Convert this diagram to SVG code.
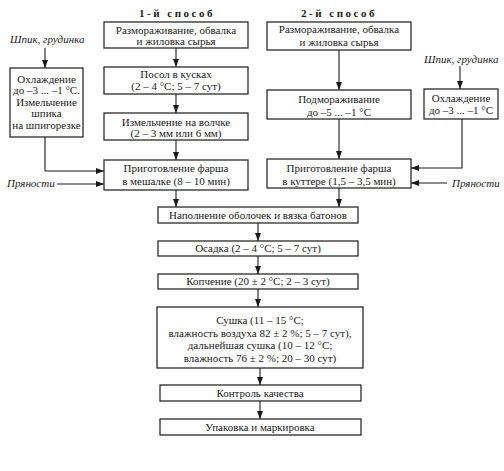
<svg xmlns="http://www.w3.org/2000/svg" width="504" height="471" viewBox="0 0 504 471">
<defs>
<marker id="ah" markerWidth="8" markerHeight="6" refX="8" refY="3" orient="auto" markerUnits="userSpaceOnUse">
<path d="M0,0 L8,3 L0,6 z" fill="#1a1a1a"/>
</marker>
<style>
.box{fill:#fff;stroke:#1a1a1a;stroke-width:1.2}
.t{font-family:"Liberation Serif","Times New Roman",serif;font-size:11px;fill:#1a1a1a;text-anchor:middle}
.i{font-family:"Liberation Serif","Times New Roman",serif;font-size:11px;font-style:italic;fill:#1a1a1a}
.h{font-family:"Liberation Serif","Times New Roman",serif;font-size:11px;font-weight:bold;fill:#1a1a1a;text-anchor:middle;letter-spacing:2.5px}
.c{fill:none;stroke:#1a1a1a;stroke-width:1.1;marker-end:url(#ah)}
</style>
</defs>
<rect width="504" height="471" fill="#fff"/>
<text class="h" x="177" y="17">1-й способ</text>
<text class="h" x="339" y="17">2-й способ</text>
<text class="i" x="10" y="43">Шпик, грудинка</text>
<text class="i" x="424" y="63">Шпик, грудинка</text>
<text class="i" x="7" y="187">Пряности</text>
<text class="i" x="452" y="187">Пряности</text>
<g id="n1"><rect class="box" x="104" y="22" width="144" height="26"/><text class="t" x="176" y="33.5">Размораживание, обвалка</text><text class="t" x="176" y="45">и жиловка сырья</text></g>
<g id="n2"><rect class="box" x="104" y="67" width="144" height="27"/><text class="t" x="176" y="78">Посол в кусках</text><text class="t" x="176" y="90">(2 – 4 °С; 5 – 7 сут)</text></g>
<g id="n3"><rect class="box" x="104" y="113" width="144" height="27"/><text class="t" x="176" y="125.5">Измельчение на волчке</text><text class="t" x="176" y="137">(2 – 3 мм или 6 мм)</text></g>
<g id="n4"><rect class="box" x="104" y="160" width="144" height="30"/><text class="t" x="176" y="172">Приготовление фарша</text><text class="t" x="176" y="185">в мешалке (8 – 10 мин)</text></g>
<g id="n5"><rect class="box" x="10" y="68" width="73" height="69"/><text class="t" x="46.5" y="82.5">Охлаждение</text><text class="t" x="46.5" y="94">до –3 ... –1 °С.</text><text class="t" x="46.5" y="105.5">Измельчение</text><text class="t" x="46.5" y="117">шпика</text><text class="t" x="46.5" y="128.5">на шпигорезке</text></g>
<g id="n6"><rect class="box" x="267" y="22" width="144" height="28"/><text class="t" x="339" y="33">Размораживание, обвалка</text><text class="t" x="339" y="45.5">и жиловка сырья</text></g>
<g id="n7"><rect class="box" x="267" y="90" width="144" height="29"/><text class="t" x="339" y="103">Подмораживание</text><text class="t" x="339" y="115.5">до –5 ... –1 °С</text></g>
<g id="n8"><rect class="box" x="267" y="159" width="144" height="29"/><text class="t" x="339" y="172">Приготовление фарша</text><text class="t" x="339" y="185">в куттере (1,5 – 3,5 мин)</text></g>
<g id="n9"><rect class="box" x="424" y="89" width="74" height="30"/><text class="t" x="461" y="102">Охлаждение</text><text class="t" x="461" y="114">до –3 ... –1 °С</text></g>
<g id="n10"><rect class="box" x="158" y="207" width="200" height="16"/><text class="t" x="258" y="218.5">Наполнение оболочек и вязка батонов</text></g>
<g id="n11"><rect class="box" x="158" y="241" width="200" height="15"/><text class="t" x="258" y="252">Осадка (2 – 4 °С; 5 – 7 сут)</text></g>
<g id="n12"><rect class="box" x="158" y="274" width="200" height="15"/><text class="t" x="258" y="285">Копчение (20 ± 2 °С; 2 – 3 сут)</text></g>
<g id="n13"><rect class="box" x="157" y="307" width="206" height="61"/><text class="t" x="260" y="323.5">Сушка (11 – 15 °С;</text><text class="t" x="260" y="336.5">влажность воздуха 82 ± 2 %; 5 – 7 сут),</text><text class="t" x="260" y="349">дальнейшая сушка (10 – 12 °С;</text><text class="t" x="260" y="361.5">влажность 76 ± 2 %; 20 – 30 сут)</text></g>
<g id="n14"><rect class="box" x="160" y="385" width="201" height="16"/><text class="t" x="260" y="396.5">Контроль качества</text></g>
<g id="n15"><rect class="box" x="160" y="419" width="201" height="16"/><text class="t" x="260" y="430.5">Упаковка и маркировка</text></g>
<g id="connectors">
<path class="c" d="M176,48 V67"/>
<path class="c" d="M176,94 V113"/>
<path class="c" d="M176,140 V160"/>
<path class="c" d="M176,190 V207"/>
<path class="c" d="M45,48 V68"/>
<path class="c" d="M45,137 V171 H104"/>
<path class="c" d="M57,184 H104"/>
<path class="c" d="M339,50 V90"/>
<path class="c" d="M339,119 V159"/>
<path class="c" d="M339,188 V207"/>
<path class="c" d="M460,66 V89"/>
<path class="c" d="M462,119 V168 H411"/>
<path class="c" d="M447,183 H411"/>
<path class="c" d="M258,223 V241"/>
<path class="c" d="M258,256 V274"/>
<path class="c" d="M258,289 V307"/>
<path class="c" d="M260,368 V385"/>
<path class="c" d="M260,401 V419"/>
</g>
</svg>
